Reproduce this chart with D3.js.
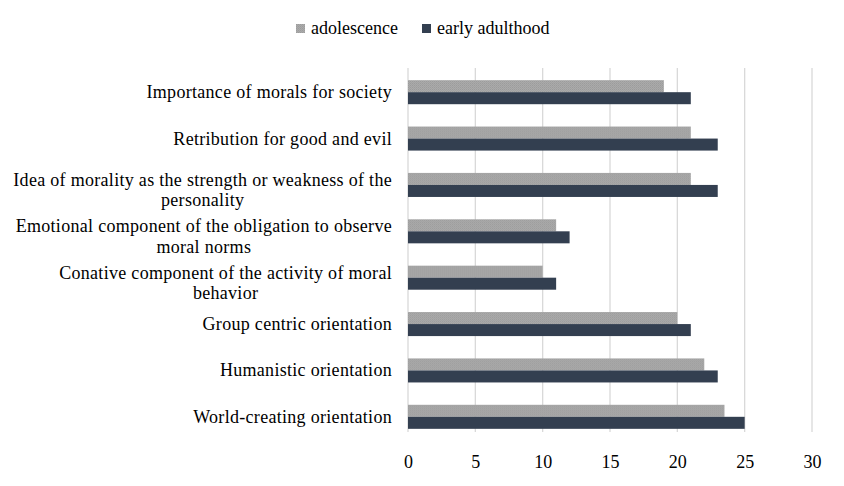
<!DOCTYPE html>
<html>
<head>
<meta charset="utf-8">
<script src="https://cdn.jsdelivr.net/npm/d3@7"></script>
<style>
  body { margin: 0; background: #fff; }
  svg text { font-family: "Times New Roman", "Liberation Serif", serif; fill: #000; }
</style>
</head>
<body>
<script>
// categories, top to bottom ("\n" marks a line break in the label)
var categories = [
  'Importance of morals for society',
  'Retribution for good and evil',
  'Idea of morality as the strength or weakness of the\npersonality',
  'Emotional component of the obligation to observe\nmoral norms',
  'Conative component of the activity of moral\nbehavior',
  'Group centric orientation',
  'Humanistic orientation',
  'World-creating orientation'
];
var seriesNames = ['adolescence', 'early adulthood'];
var adolescence = [19, 21, 21, 11, 10, 20, 22, 23.5];
var earlyAdulthood = [21, 23, 23, 12, 11, 21, 23, 25];
var ticks = [0, 5, 10, 15, 20, 25, 30];

var colors = ['url(#grayDots)', '#333f50'];

var w = 844, h = 486;
var plotTop = 68, plotBottom = 432;
var labelRight = 392;

var svg = d3.select('body').append('svg')
  .attr('width', w)
  .attr('height', h);

// fine dither like the original's light fill
var pat = svg.append('defs').append('pattern')
  .attr('id', 'grayDots')
  .attr('patternUnits', 'userSpaceOnUse')
  .attr('width', 2)
  .attr('height', 2);
pat.append('rect').attr('width', 2).attr('height', 2).attr('fill', '#aaaaaa');
pat.append('rect').attr('width', 1).attr('height', 1).attr('fill', '#9c9c9c');
pat.append('rect').attr('x', 1).attr('y', 1).attr('width', 1).attr('height', 1).attr('fill', '#a2a2a2');

var x = d3.scaleLinear()
  .domain([0, 30])
  .range([408, 812]);

var y = d3.scaleBand()
  .domain(categories)
  .range([69, 440]);

var sub = d3.scaleBand()
  .domain(seriesNames)
  .range([0, y.bandwidth()])
  .paddingOuter(0.93)
  .paddingInner(0);

// gridlines
svg.append('g').selectAll('line')
  .data(ticks)
  .enter()
  .append('line')
    .attr('x1', function(d) { return x(d); })
    .attr('x2', function(d) { return x(d); })
    .attr('y1', plotTop)
    .attr('y2', plotBottom)
    .attr('stroke', '#d9d9d9')
    .attr('stroke-width', 1.3);

// bars
var rows = categories.map(function(c, i) {
  return { cat: c, vals: [adolescence[i], earlyAdulthood[i]] };
});

var groups = svg.append('g').selectAll('g')
  .data(rows)
  .enter()
  .append('g')
    .attr('transform', function(d) { return 'translate(0,' + y(d.cat) + ')'; });

groups.selectAll('rect')
  .data(function(d) { return d.vals; })
  .enter()
  .append('rect')
    .attr('x', x(0))
    .attr('y', function(d, i) { return sub(seriesNames[i]); })
    .attr('width', function(d) { return x(d) - x(0); })
    .attr('height', sub.bandwidth())
    .attr('fill', function(d, i) { return colors[i]; });

// x axis
var xAxis = d3.axisBottom(x).tickValues(ticks).tickSize(0).tickPadding(23);
svg.append('g')
  .attr('transform', 'translate(0,' + plotBottom + ')')
  .call(xAxis)
  .call(function(g) { g.select('.domain').remove(); })
  .selectAll('text')
    .style('font-family', '"Times New Roman", "Liberation Serif", serif')
    .style('font-size', '18px')
    .attr('fill', '#000');

// category labels: block is right-aligned, wrapped lines centred under the first
svg.append('g').selectAll('text')
  .data(categories)
  .enter()
  .append('text')
    .style('font-size', '18px')
    .style('letter-spacing', '0.3px')
    .each(function(d) {
      var lines = d.split('\n');
      var t = d3.select(this);
      var cy = y(d) + y.bandwidth() / 2;
      if (lines.length === 1) {
        t.attr('text-anchor', 'end')
          .attr('x', labelRight)
          .attr('y', cy + 6)
          .text(d);
        return;
      }
      var first = t.append('tspan').attr('y', cy + 1).text(lines[0]);
      var wid = first.node().getComputedTextLength();
      t.attr('text-anchor', 'middle');
      first.attr('x', labelRight - wid / 2);
      lines.slice(1).forEach(function(line, i) {
        t.append('tspan')
          .attr('x', labelRight - wid / 2)
          .attr('y', cy + 1 + (i + 1) * 20.5)
          .text(line);
      });
    });

// legend
var legend = svg.append('g');
var legX = [296, 422];
seriesNames.forEach(function(name, i) {
  legend.append('rect')
    .attr('x', legX[i])
    .attr('y', 24)
    .attr('width', 9)
    .attr('height', 9)
    .attr('fill', colors[i]);
  legend.append('text')
    .attr('x', legX[i] + 15)
    .attr('y', 34)
    .style('font-size', '18px')
    .text(name);
});
</script>
</body>
</html>
